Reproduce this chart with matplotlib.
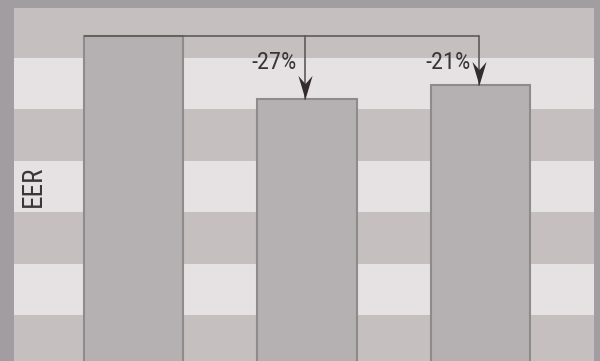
import matplotlib
matplotlib.use("Agg")
import matplotlib.pyplot as plt
from matplotlib.path import Path
import numpy as np

# dados
groups = ["A", "B", "C"]
eer = [1.00, 0.73, 0.79]
changes = ["-27%", "-21%"]

FRAME = "#a29da0"
BAND_DARK = "#c5bfc0"
BAND_LIGHT = "#e6e2e3"
BAR = "#b5b0b1"
BAR_EDGE = "#8d8b8b"
LINE = "#5e5a5c"
HEAD = "#332b2f"
TEXT = "#3b3538"
FONT = ["Roboto Condensed", "DejaVu Sans"]

fig = plt.figure(figsize=(6.0, 3.61), dpi=100, facecolor=FRAME)
# eixo vai além da borda inferior (imagem recortada)
ax = fig.add_axes([14 / 600, -39 / 361, 580 / 600, 392 / 361])
ymin, ymax = -0.562, 1.120
ax.set_xlim(-0.69, 2.655)
ax.set_ylim(ymin, ymax)
ax.set_facecolor(BAND_DARK)

# faixas de fundo
edges = np.arange(-0.197, 1.2, 0.2205)
for k, lo in enumerate(edges):
    if k % 2 == 0:
        ax.axhspan(lo, lo + 0.2205, color=BAND_LIGHT, lw=0, zorder=0)

x = np.arange(len(groups))
ax.bar(x, np.array(eer) - ymin, bottom=ymin, width=0.575, color=BAR,
       edgecolor=BAR_EDGE, linewidth=1.5, zorder=2)

# setas de referência a partir da primeira barra
head = Path([(0, 0), (-0.3, 1), (0, 0.65), (0.3, 1), (0, 0)],
            [Path.MOVETO, Path.LINETO, Path.LINETO, Path.LINETO, Path.CLOSEPOLY])
x_left = x[0] - 0.575 / 2
ax.plot([x_left, x[-1] - 0.01], [eer[0], eer[0]], color=LINE, lw=1.2, zorder=3,
        solid_capstyle="butt")
for i, lab in zip(x[1:], changes):
    xa = i - 0.01
    ax.plot([xa, xa], [eer[0], eer[i]], color=LINE, lw=1.2, zorder=3)
    ax.plot([xa], [eer[i]], marker=head, markersize=34, color=HEAD,
            markeredgewidth=0, zorder=4)
    ax.annotate(lab, xy=(xa, 0.885), xytext=(-6, 0),
                textcoords="offset points", ha="right", va="center",
                fontsize=17.5, color=TEXT, family=FONT)

ax.set_xticks([])
ax.set_yticks([])
for s in ax.spines.values():
    s.set_visible(False)

fig.text(33 / 600, 1 - 186 / 361, "EER", rotation=90, ha="center", va="center",
         fontsize=19.5, color=TEXT, family=FONT)

fig.savefig("out.png", dpi=100, facecolor=FRAME)
